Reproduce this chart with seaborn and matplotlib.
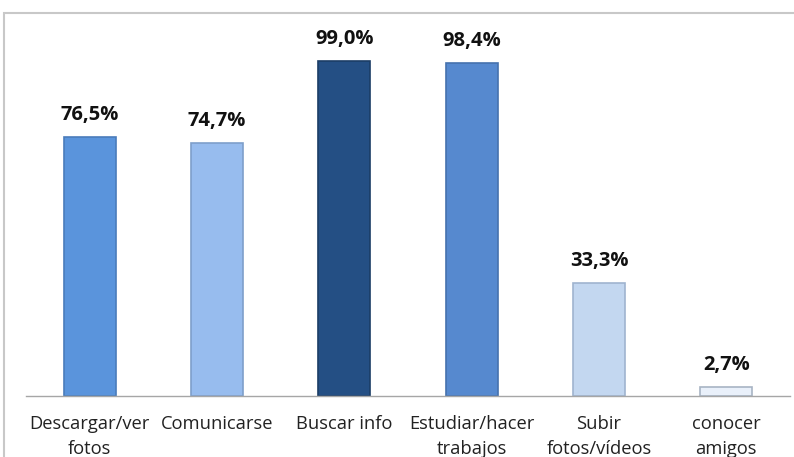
import matplotlib
matplotlib.use("Agg")
import matplotlib.pyplot as plt
from matplotlib.patches import Rectangle
import seaborn as sns
import pandas as pd

categories = ["Descargar/ver\nfotos", "Comunicarse", "Buscar info",
              "Estudiar/hacer\ntrabajos", "Subir\nfotos/vídeos", "conocer\namigos"]
values = [76.5, 74.7, 99.0, 98.4, 33.3, 2.7]
labels = ["76,5%", "74,7%", "99,0%", "98,4%", "33,3%", "2,7%"]
colors = ["#5A94DC", "#97BCEE", "#244F84", "#5689CF", "#C3D7F0", "#E9F0FA"]
edges = ["#4A7CBB", "#7E9FCB", "#1B3D66", "#4672AE", "#9FB4CF", "#A8B4C4"]

sns.set_theme(style="white")
plt.rcParams["font.family"] = ["Open Sans", "DejaVu Sans"]

df = pd.DataFrame({"cat": categories, "val": values})

fig = plt.figure(figsize=(7.94, 4.57), dpi=100)
ax = fig.add_axes([26 / 794, 1 - 396 / 457, (790 - 26) / 794, (396 - 24) / 457])

sns.barplot(data=df, x="cat", y="val", hue="cat", palette=colors,
            legend=False, width=0.41, ax=ax, saturation=1)

for bar, ec, lab, v in zip(ax.patches, edges, labels, values):
    bar.set_edgecolor(ec)
    bar.set_linewidth(1.2)
    cx = bar.get_x() + bar.get_width() / 2
    ax.text(cx, v + 3.6, lab, ha="center", va="bottom",
            fontsize=14.5, fontweight="bold", color="#111111")

ax.set_ylim(0, 110)
ax.set_xlim(-0.5, 5.5)
ax.set_xlabel("")
ax.set_ylabel("")
ax.set_yticks([])
ax.tick_params(axis="x", length=0, pad=14, labelsize=13.2, labelcolor="#222222")
for s in ["top", "right", "left"]:
    ax.spines[s].set_visible(False)
ax.spines["bottom"].set_color("#A6A6A6")
ax.spines["bottom"].set_linewidth(1)
for t in ax.get_xticklabels():
    t.set_linespacing(1.45)

# outer chart frame
fig.patches.append(Rectangle((4 / 794, -0.05), 1.0, 1 - 13 / 457 + 0.05,
                             transform=fig.transFigure, fill=False,
                             edgecolor="#C8C8C8", linewidth=1.5))

fig.savefig("out.png", dpi=100)
